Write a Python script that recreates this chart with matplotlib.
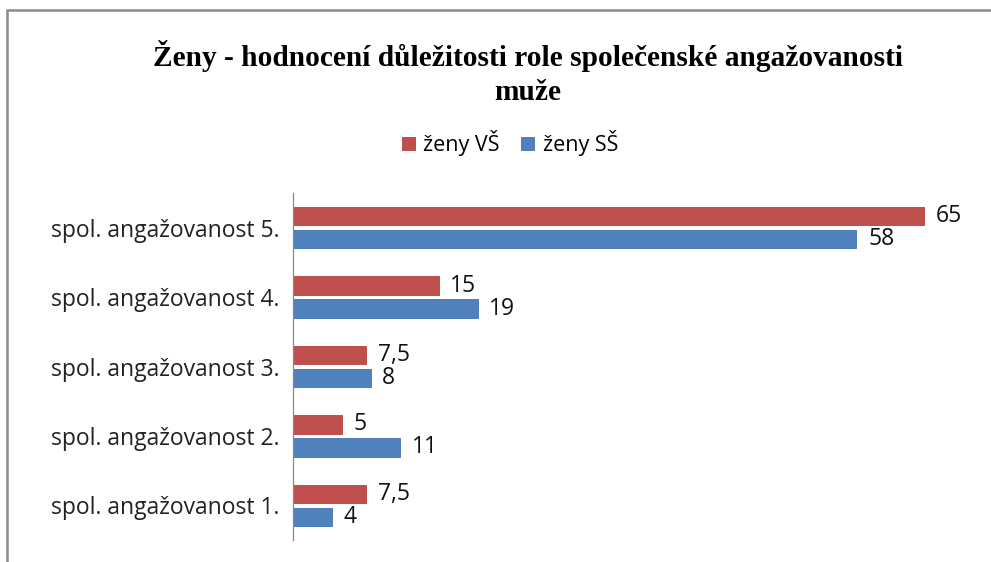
import matplotlib
matplotlib.use('Agg')
import matplotlib.pyplot as plt
from matplotlib.patches import Rectangle
import numpy as np

categories = ['spol. angažovanost 1.', 'spol. angažovanost 2.', 'spol. angažovanost 3.',
              'spol. angažovanost 4.', 'spol. angažovanost 5.']
zeny_vs = [7.5, 5, 7.5, 15, 65]
zeny_ss = [4, 11, 8, 19, 58]
series_names = ['ženy VŠ', 'ženy SŠ']
title = 'Ženy - hodnocení důležitosti role společenské angažovanosti\nmuže'

red = '#C0504D'
blue = '#4F81BD'
label_font = 'Open Sans'

fig = plt.figure(figsize=(9.91, 5.62), dpi=100)
ax = fig.add_axes([293 / 991, 1 - 540 / 562, 680 / 991, 347 / 562])

y = np.arange(len(categories))
h = 0.265
off = 0.166
b1 = ax.barh(y + off, zeny_vs, height=h, color=red, edgecolor='#B4413E', linewidth=0.6, label=series_names[0])
b2 = ax.barh(y - off, zeny_ss, height=h, color=blue, edgecolor='#4472AE', linewidth=0.6, label=series_names[1])

def fmt(v):
    return f'{v:g}'.replace('.', ',')

for bars, vals in ((b1, zeny_vs), (b2, zeny_ss)):
    for bar, v in zip(bars, vals):
        ax.text(bar.get_width() + 1.2, bar.get_y() + bar.get_height() / 2, fmt(v),
                va='center', ha='left', fontsize=16.5, family=label_font, color='#111111')

ax.set_xlim(0, 70)
ax.set_ylim(-0.5, len(categories) - 0.5)
ax.set_yticks(y)
ax.set_yticklabels(categories, fontsize=16.5, family=label_font, color='#222222')
ax.tick_params(axis='y', length=0, pad=10)
ax.set_xticks([])
for s in ['top', 'right', 'bottom']:
    ax.spines[s].set_visible(False)
ax.spines['left'].set_color('#888888')
ax.spines['left'].set_linewidth(0.9)

fig.text(528 / 991, 1 - 73 / 562, title, ha='center', va='center', fontsize=21.2,
         family='Liberation Serif', weight='bold', linespacing=1.3)

leg = fig.legend(handles=[b1, b2], labels=series_names, loc='center',
                 bbox_to_anchor=(510 / 991, 1 - 143 / 562), ncol=2, frameon=False,
                 prop={'family': label_font, 'size': 15.5}, handlelength=0.6,
                 handleheight=0.6, handletextpad=0.4, columnspacing=1.0)

fig.patches.append(Rectangle((7 / 991, -0.1), 1.2, 1.1 - 9.5 / 562, transform=fig.transFigure,
                             fill=False, edgecolor='#8C8C8C', linewidth=1.8))

fig.savefig('out.png', dpi=100)
